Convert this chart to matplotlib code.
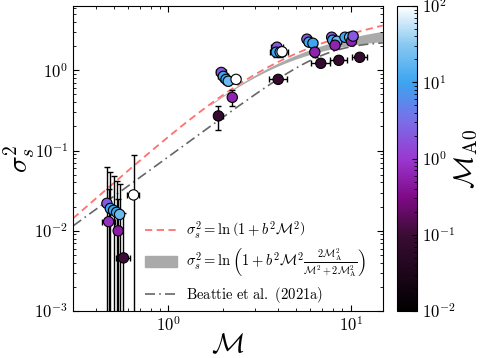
import numpy as np
import matplotlib
matplotlib.use("Agg")
import matplotlib.pyplot as plt
from matplotlib.colors import LinearSegmentedColormap, LogNorm
from matplotlib.patches import Patch
from matplotlib.lines import Line2D

plt.rcParams['mathtext.fontset'] = 'cm'
plt.rcParams['font.family'] = 'serif'

# data -----------------------------------------------------------
mach = [0.46, 0.48, 0.50, 0.52, 0.54, 0.47, 0.53, 0.567, 0.644,
        1.95, 2.00, 2.07, 2.13, 2.35, 2.24, 1.88,
        3.94, 3.90, 4.10, 4.20, 4.00,
        5.75, 5.90, 6.20, 6.35, 6.85,
        7.86, 7.96, 8.40, 8.20, 8.60,
        9.30, 9.86, 10.1, 10.3, 11.2]
sigma2 = [0.022, 0.019, 0.018, 0.017, 0.016, 0.013, 0.010, 0.0046, 0.028,
          0.94, 0.84, 0.77, 0.73, 0.77, 0.46, 0.27,
          1.94, 1.68, 1.68, 1.70, 0.77,
          2.44, 2.24, 2.17, 1.68, 1.22,
          2.58, 2.37, 2.30, 2.05, 1.33,
          2.58, 2.58, 2.30, 2.66, 1.45]
mach_A0 = [2, 10, 10, 10, 20, 0.8, 0.5, 0.1, 100,
           2, 10, 10, 20, 100, 0.6, 0.08,
           2, 10, 20, 100, 0.08,
           2, 10, 10, 0.6, 0.08,
           2, 10, 20, 0.6, 0.08,
           10, 20, 0.6, 2, 0.08]
mach_err = [0.02, 0.02, 0.02, 0.02, 0.02, 0.04, 0.02, 0.05, 0.05,
            0.12, 0.12, 0.12, 0.12, 0.12, 0.05, 0.1,
            0.3, 0.3, 0.3, 0.3, 0.45,
            0.3, 0.3, 0.3, 0.3, 0.8,
            0.4, 0.4, 0.4, 0.4, 0.9,
            0.5, 0.5, 0.5, 0.5, 1.1]
sigma2_err = [0.04, 0.035, 0.03, 0.025, 0.022, 0.02, 0.015, 0.012, 0.06,
              0.1, 0.1, 0.1, 0.08, 0.08, 0.1, 0.09,
              0.2, 0.2, 0.2, 0.2, 0.05,
              0.2, 0.2, 0.2, 0.2, 0.1,
              0.2, 0.2, 0.2, 0.2, 0.1,
              0.2, 0.2, 0.2, 0.2, 0.1]

xtick_vals = [1, 10]
xtick_labels = [r'$10^{0}$', r'$10^{1}$']
ytick_vals = [1e-3, 1e-2, 1e-1, 1e0]
ytick_labels = [r'$10^{-3}$', r'$10^{-2}$', r'$10^{-1}$', r'$10^{0}$']
cbar_vals = [1e-2, 1e-1, 1e0, 1e1, 1e2]
cbar_labels = [r'$10^{-2}$', r'$10^{-1}$', r'$10^{0}$', r'$10^{1}$', r'$10^{2}$']

b = 0.4
MA_band = (6.0, 12.0)
# empirical shape of the Beattie et al. (2021a) line
beattie_c, beattie_p, beattie_sat = 0.084, 1.65, 2.3

cmap = LinearSegmentedColormap.from_list("ma0", [
    (0.0, "#000000"), (0.25, "#3a0c34"), (0.375, "#800a88"), (0.5, "#9a38d0"),
    (0.625, "#7a6ee8"), (0.75, "#3ca4f0"), (0.875, "#88c8f0"), (1.0, "#ffffff")])

fig = plt.figure(figsize=(4.84, 3.58), dpi=100)
ax = fig.add_axes([0.151, 0.131, 0.640, 0.852])
cax = fig.add_axes([0.820, 0.131, 0.042, 0.852])

red = "#ff7070"
grey = "#666666"
dashdot = (0, (6, 2.5, 1, 2.5))

# model curves
M = np.logspace(np.log10(0.3), np.log10(15), 300)
ax.plot(M, np.log(1 + b**2 * M**2), ls=(0, (4, 2.5)), color=red, lw=1.3, zorder=1)
Mb = np.logspace(np.log10(1.7), np.log10(15), 200)
lo = np.log(1 + b**2 * Mb**2 * 2 * MA_band[0]**2 / (Mb**2 + 2 * MA_band[0]**2))
hi = np.log(1 + b**2 * Mb**2 * 2 * MA_band[1]**2 / (Mb**2 + 2 * MA_band[1]**2))
ax.fill_between(Mb, lo, hi, color="#aaaaaa", lw=0, zorder=0.5)
xb = beattie_c * M**beattie_p
ax.plot(M, xb / np.sqrt(1 + (xb / beattie_sat)**2), ls=dashdot, color=grey, lw=1.2, zorder=1)

ax.errorbar(mach, sigma2, xerr=mach_err, yerr=sigma2_err, fmt='none', ecolor='k',
            elinewidth=1, capsize=2, capthick=1, zorder=2)
sc = ax.scatter(mach, sigma2, c=mach_A0, cmap=cmap, norm=LogNorm(1e-2, 1e2),
                s=55, edgecolors='k', linewidths=0.8, zorder=3)

ax.set_xscale('log')
ax.set_yscale('log')
ax.set_xlim(0.3, 15)
ax.set_ylim(1e-3, 6.3)
ax.set_xticks(xtick_vals, xtick_labels)
ax.set_yticks(ytick_vals, ytick_labels)
ax.tick_params(which='both', direction='in', top=True, right=True, labelsize=12)
ax.tick_params(which='major', length=4)
ax.tick_params(which='minor', length=2)
ax.set_xlabel(r'$\mathcal{M}$', fontsize=20)
ax.xaxis.set_label_coords(0.5, -0.065)
ax.set_ylabel(r'$\sigma_s^2$', fontsize=20)
ax.yaxis.set_label_coords(-0.118, 0.5)

handles = [Line2D([], [], ls=(0, (4, 2.5)), color=red, lw=1.3),
           Patch(color="#aaaaaa"),
           Line2D([], [], ls=dashdot, color=grey, lw=1.2)]
labels = [r'$\sigma_s^2 = \ln\left(1 + b^2\mathcal{M}^2\right)$',
          r'$\sigma_s^2 = \ln\left(1 + b^2\mathcal{M}^2\frac{2\mathcal{M}_\mathrm{A}^2}{\mathcal{M}^2+2\mathcal{M}_\mathrm{A}^2}\right)$',
          r'$\mathrm{Beattie\ et\ al.\ (2021a)}$']
ax.legend(handles, labels, loc='lower right', bbox_to_anchor=(0.965, 0.0), frameon=False,
          fontsize=10.5, handlelength=2.2, handletextpad=0.6, labelspacing=0.4,
          borderaxespad=0.0)

cb = fig.colorbar(sc, cax=cax)
cb.set_ticks(cbar_vals, labels=cbar_labels)
cb.ax.tick_params(which='both', direction='in', labelsize=12)
cb.set_label(r'$\mathcal{M}_{\mathrm{A0}}$', fontsize=20, labelpad=-2)

fig.savefig("out.png", dpi=100)
